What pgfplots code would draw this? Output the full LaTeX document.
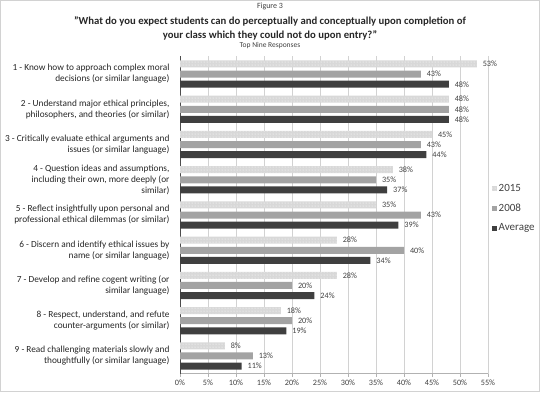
\documentclass[border=0pt]{standalone}
\usepackage{fontspec}
\setmainfont{Carlito}
\usepackage{pgfplots}
\usepackage{pgfplotstable}
\pgfplotsset{compat=1.18}
\usetikzlibrary{patterns}
\definecolor{cA}{HTML}{D8D8D8}
\definecolor{cB}{HTML}{A3A3A3}
\definecolor{cC}{HTML}{3F3F3F}
\definecolor{txt}{HTML}{404040}

\pgfplotstableread{
g a b c
9 53 43 48
8 48 48 48
7 45 43 44
6 38 35 37
5 35 43 39
4 28 40 34
3 28 20 24
2 18 20 19
1 8 13 11
}\data

\begin{document}
\begin{tikzpicture}
\path[use as bounding box] (0pt,0pt) rectangle (540pt,392pt);
\draw[gray!35] (0.5pt,0.5pt) rectangle (539.5pt,391.5pt);
\node[font=\fontsize{8}{9}\selectfont, text=txt] at (270pt,385.3pt) {Figure 3};
\node[font=\bfseries\fontsize{10.7}{14}\selectfont, align=center, text=black!85] at (270pt,364pt) {\symbol{34}What do you expect students can do perceptually and conceptually upon completion of\\your class which they could not do upon entry?\symbol{34}};
\node[font=\fontsize{7.5}{9}\selectfont, text=txt] at (270pt,346pt) {Top Nine Responses};
\begin{axis}[
  at={(180pt,18.4pt)}, anchor=south west, scale only axis,
  width=308pt, height=317.2pt,
  xmin=0, xmax=55, ymin=0.5, ymax=9.5,
  xbar, bar width=7pt,
  xtick={0,5,...,55},
  xticklabels={0\%,5\%,10\%,15\%,20\%,25\%,30\%,35\%,40\%,45\%,50\%,55\%},
  ytick={1,...,9},
  yticklabels={
    {9 - Read challenging materials slowly and\\thoughtfully (or similar language)},
    {8 -  Respect, understand, and refute\\counter-arguments (or similar)},
    {7 - Develop and refine cogent writing (or\\similar language)},
    {6 - Discern and identify ethical issues by\\name (or similar language)},
    {5 - Reflect  insightfully  upon personal and\\professional ethical dilemmas (or similar)},
    {4 - Question ideas and assumptions,\\including their own, more deeply (or\\similar)},
    {3 - Critically evaluate ethical arguments and\\issues (or similar language)},
    {2 - Understand major ethical principles,\\philosophers, and theories (or similar)},
    {1 - Know how to approach complex moral\\decisions (or similar language)}
  },
  yticklabel style={align=right, font=\fontsize{9.3}{11}\selectfont, text=black!85, xshift=-4pt},
  xticklabel style={font=\fontsize{8.2}{9}\selectfont, text=txt},
  axis x line*=bottom, axis y line*=left,
  x axis line style={gray!60}, y axis line style={black!70},
  xtick style={gray!60}, ytick style={draw=none},
  tick align=outside, major tick length=3pt,
  xmajorgrids, grid style={gray!35},
  point meta=x,
  /pgf/number format/assume math mode=true,
  nodes near coords={\pgfmathprintnumber{\pgfplotspointmeta}\%},
  nodes near coords style={font=\fontsize{8.2}{9}\selectfont, text=txt, anchor=west, xshift=2.5pt},
  legend style={at={(1.013,0.521)}, anchor=west, draw=none, fill=none,
    font=\fontsize{11}{13}\selectfont, text=txt, row sep=7pt, inner xsep=0pt,
    nodes={inner xsep=1.5pt}},
  legend cell align=left,
  legend image code/.code={\fill[#1] (0pt,-2.5pt) rectangle (5pt,2.5pt);},
]
\addplot[fill=cA, draw=none, bar shift=10.2pt, postaction={pattern=dots, pattern color=white}] table[x=a,y=g]{\data};
\addplot[fill=cB, draw=none, bar shift=0pt] table[x=b,y=g]{\data};
\addplot[fill=cC, draw=none, bar shift=-10.2pt] table[x=c,y=g]{\data};
\legend{2015,2008,Average}
\end{axis}
\end{tikzpicture}
\end{document}
